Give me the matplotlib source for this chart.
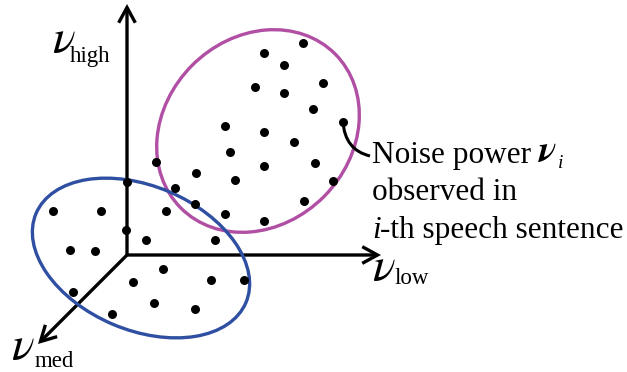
import matplotlib
matplotlib.use("Agg")
import matplotlib.pyplot as plt
from matplotlib.patches import Ellipse, FancyArrowPatch, PathPatch
from matplotlib.path import Path

# Observed noise-power samples (canvas coordinates, y grows downward)
dots_x = [303, 264, 284, 255, 284, 313, 323, 225, 264, 294, 343, 230, 264, 315,
          156, 196, 235, 175, 127, 195, 225, 304, 333, 264,
          53, 101, 166, 126, 146, 215, 70, 95,
          163, 133, 211, 244, 73, 154, 195, 112]
dots_y = [43, 53, 65, 87, 93, 109, 83, 126, 132, 142, 122, 152, 166, 163,
          162, 173, 180, 188, 182, 204, 214, 201, 181, 221,
          211, 211, 211, 230, 240, 240, 250, 251,
          269, 282, 280, 280, 292, 303, 309, 314]

# Cluster outlines: centre, width, height, angle
clusters = [
    dict(xy=(258, 131), w=218, h=186, angle=-45, color="#B04FA3"),
    dict(xy=(141, 258), w=228, h=144, angle=23, color="#2F4FA2"),
]

origin = (127, 255)
axis_tips = {"high": (127, 4), "low": (381, 255), "med": (38, 344)}

# axis label: name, nu position (x, baseline), subscript position (x, baseline)
axis_labels = [
    ("high", (52, 52), (70, 62)),
    ("low", (372, 280), (395, 284)),
    ("med", (11, 359), (35, 367)),
]

W, H = 627, 372
fig = plt.figure(figsize=(W / 100, H / 100), dpi=100)
ax = fig.add_axes([0, 0, 1, 1])
ax.set_xlim(0, W)
ax.set_ylim(H, 0)
ax.axis("off")

serif = "Liberation Serif"
greek = "STIXGeneral"

# coordinate axes
for tip in axis_tips.values():
    ax.add_patch(FancyArrowPatch(origin, tip,
                                 arrowstyle="->,head_length=0.55,head_width=0.3",
                                 mutation_scale=20, lw=2.4, color="black",
                                 shrinkA=0, shrinkB=0, joinstyle="miter",
                                 capstyle="butt", zorder=2))

for c in clusters:
    ax.add_patch(Ellipse(c["xy"], c["w"], c["h"], angle=c["angle"],
                         fill=False, ec=c["color"], lw=2.4, zorder=3))

ax.scatter(dots_x, dots_y, s=42, color="black", zorder=4, linewidths=0)

# connector from the highlighted sample to its caption
conn = Path([(343, 122), (345, 150), (370, 156)],
            [Path.MOVETO, Path.CURVE3, Path.CURVE3])
ax.add_patch(PathPatch(conn, fill=False, lw=2.2, ec="black", zorder=4))

for name, (nx, ny), (sx, sy) in axis_labels:
    ax.text(nx, ny, "ν", family=greek, style="italic", fontsize=34,
            va="baseline", ha="left")
    ax.text(sx, sy, name, family=serif, fontsize=16.5,
            va="baseline", ha="left")

# caption
fs = 22.5
ax.text(372, 163, "Noise power", family=serif, fontsize=fs, va="baseline")
ax.text(539, 162, "ν", family=greek, style="italic", weight="bold",
        fontsize=27, va="baseline")
ax.text(558, 168, "i", family=serif, style="italic", fontsize=14,
        va="baseline")
ax.text(372, 200, "observed in", family=serif, fontsize=fs, va="baseline")
ax.text(372, 238, "i", family=serif, style="italic", fontsize=fs,
        va="baseline")
ax.text(380, 238, "-th speech sentence", family=serif, fontsize=fs,
        va="baseline")

fig.savefig("out.png", dpi=100)
